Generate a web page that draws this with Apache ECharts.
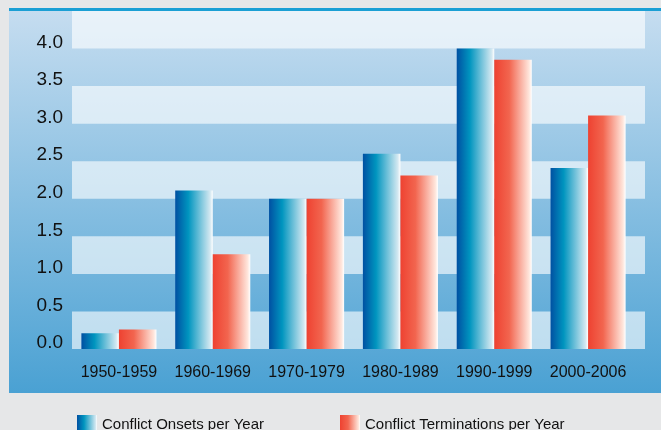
<!DOCTYPE html>
<html>
<head>
<meta charset="utf-8">
<style>
  html, body { margin: 0; padding: 0; background: #e6e7e8; }
  #chart { width: 661px; height: 430px; }
</style>
<script src="https://cdn.jsdelivr.net/npm/echarts@6/dist/echarts.min.js"></script>
</head>
<body>
<div id="chart"></div>
<script>
// decades on the x axis
var decades = ['1950-1959', '1960-1969', '1970-1979', '1980-1989', '1990-1999', '2000-2006'];
// conflicts per year
var onsets = [0.21, 2.11, 2.0, 2.6, 4.0, 2.41];
var terminations = [0.26, 1.26, 2.0, 2.31, 3.85, 3.11];
var seriesNames = ['Conflict Onsets per Year', 'Conflict Terminations per Year'];

var font = '"Liberation Sans", Arial, sans-serif';

function barGrad(stops) {
    return new echarts.graphic.LinearGradient(0, 0, 1, 0, stops);
}
var blueGrad = barGrad([
    {offset: 0, color: '#0050a2'},
    {offset: 0.35, color: '#0095bf'},
    {offset: 0.93, color: '#d3e8f1'},
    {offset: 1, color: '#ffffff'}
]);
var redGrad = barGrad([
    {offset: 0, color: '#ee4231'},
    {offset: 0.4, color: '#f2654f'},
    {offset: 0.93, color: '#ffe6dc'},
    {offset: 1, color: '#ffffff'}
]);

var chart = echarts.init(document.getElementById('chart'));
chart.setOption({
    animation: false,
    backgroundColor: '#e6e7e8',
    graphic: [{
        type: 'rect',
        z: -10,
        shape: {x: 9, y: 9, width: 652, height: 384},
        style: {
            fill: new echarts.graphic.LinearGradient(0, 0, 0, 1, [
                {offset: 0, color: '#c6ddf0'},
                {offset: 1, color: '#4aa1d3'}
            ])
        }
    }, {
        type: 'rect',
        z: -9,
        shape: {x: 9, y: 8, width: 652, height: 3},
        style: {fill: '#1b9fd4'}
    }],
    grid: [
        {left: 72, right: 26, top: 11, bottom: 81},
        {left: 72, right: 16, top: 11, bottom: 81}
    ],
    legend: {
        data: seriesNames,
        left: 72,
        top: 410,
        icon: 'rect',
        itemWidth: 20,
        itemHeight: 20,
        itemGap: 76,
        textStyle: {fontFamily: font, fontSize: 15, color: '#111'}
    },
    xAxis: [{
        gridIndex: 0,
        type: 'category',
        data: decades,
        axisLine: {show: false},
        axisTick: {show: false},
        axisLabel: {fontFamily: font, fontSize: 16, color: '#111', margin: 16, interval: 0}
    }, {
        gridIndex: 1,
        type: 'category',
        data: decades,
        show: false
    }],
    yAxis: [{
        gridIndex: 0,
        type: 'value',
        min: 0,
        max: 4.5,
        interval: 0.5,
        splitLine: {show: false},
        axisLine: {show: false},
        axisTick: {show: false},
        axisLabel: {
            fontFamily: font,
            fontSize: 19,
            color: '#111',
            margin: 9,
            verticalAlign: 'bottom',
            lineHeight: 12,
            formatter: function(v) { return v > 4 ? '' : v.toFixed(1); }
        }
    }, {
        gridIndex: 1,
        type: 'value',
        min: 0,
        max: 4.5,
        interval: 0.5,
        axisLine: {show: false},
        axisTick: {show: false},
        axisLabel: {show: false},
        splitLine: {show: false},
        splitArea: {
            show: true,
            areaStyle: {color: ['rgba(255,255,255,0.62)', 'rgba(255,255,255,0)']}
        }
    }],
    series: [{
        name: seriesNames[0],
        type: 'bar',
        xAxisIndex: 0,
        yAxisIndex: 0,
        data: onsets,
        barGap: '0%',
        barCategoryGap: '20%',
        itemStyle: {color: blueGrad}
    }, {
        name: seriesNames[1],
        type: 'bar',
        xAxisIndex: 0,
        yAxisIndex: 0,
        data: terminations,
        barGap: '0%',
        barCategoryGap: '20%',
        itemStyle: {color: redGrad}
    }]
});
</script>
</body>
</html>
